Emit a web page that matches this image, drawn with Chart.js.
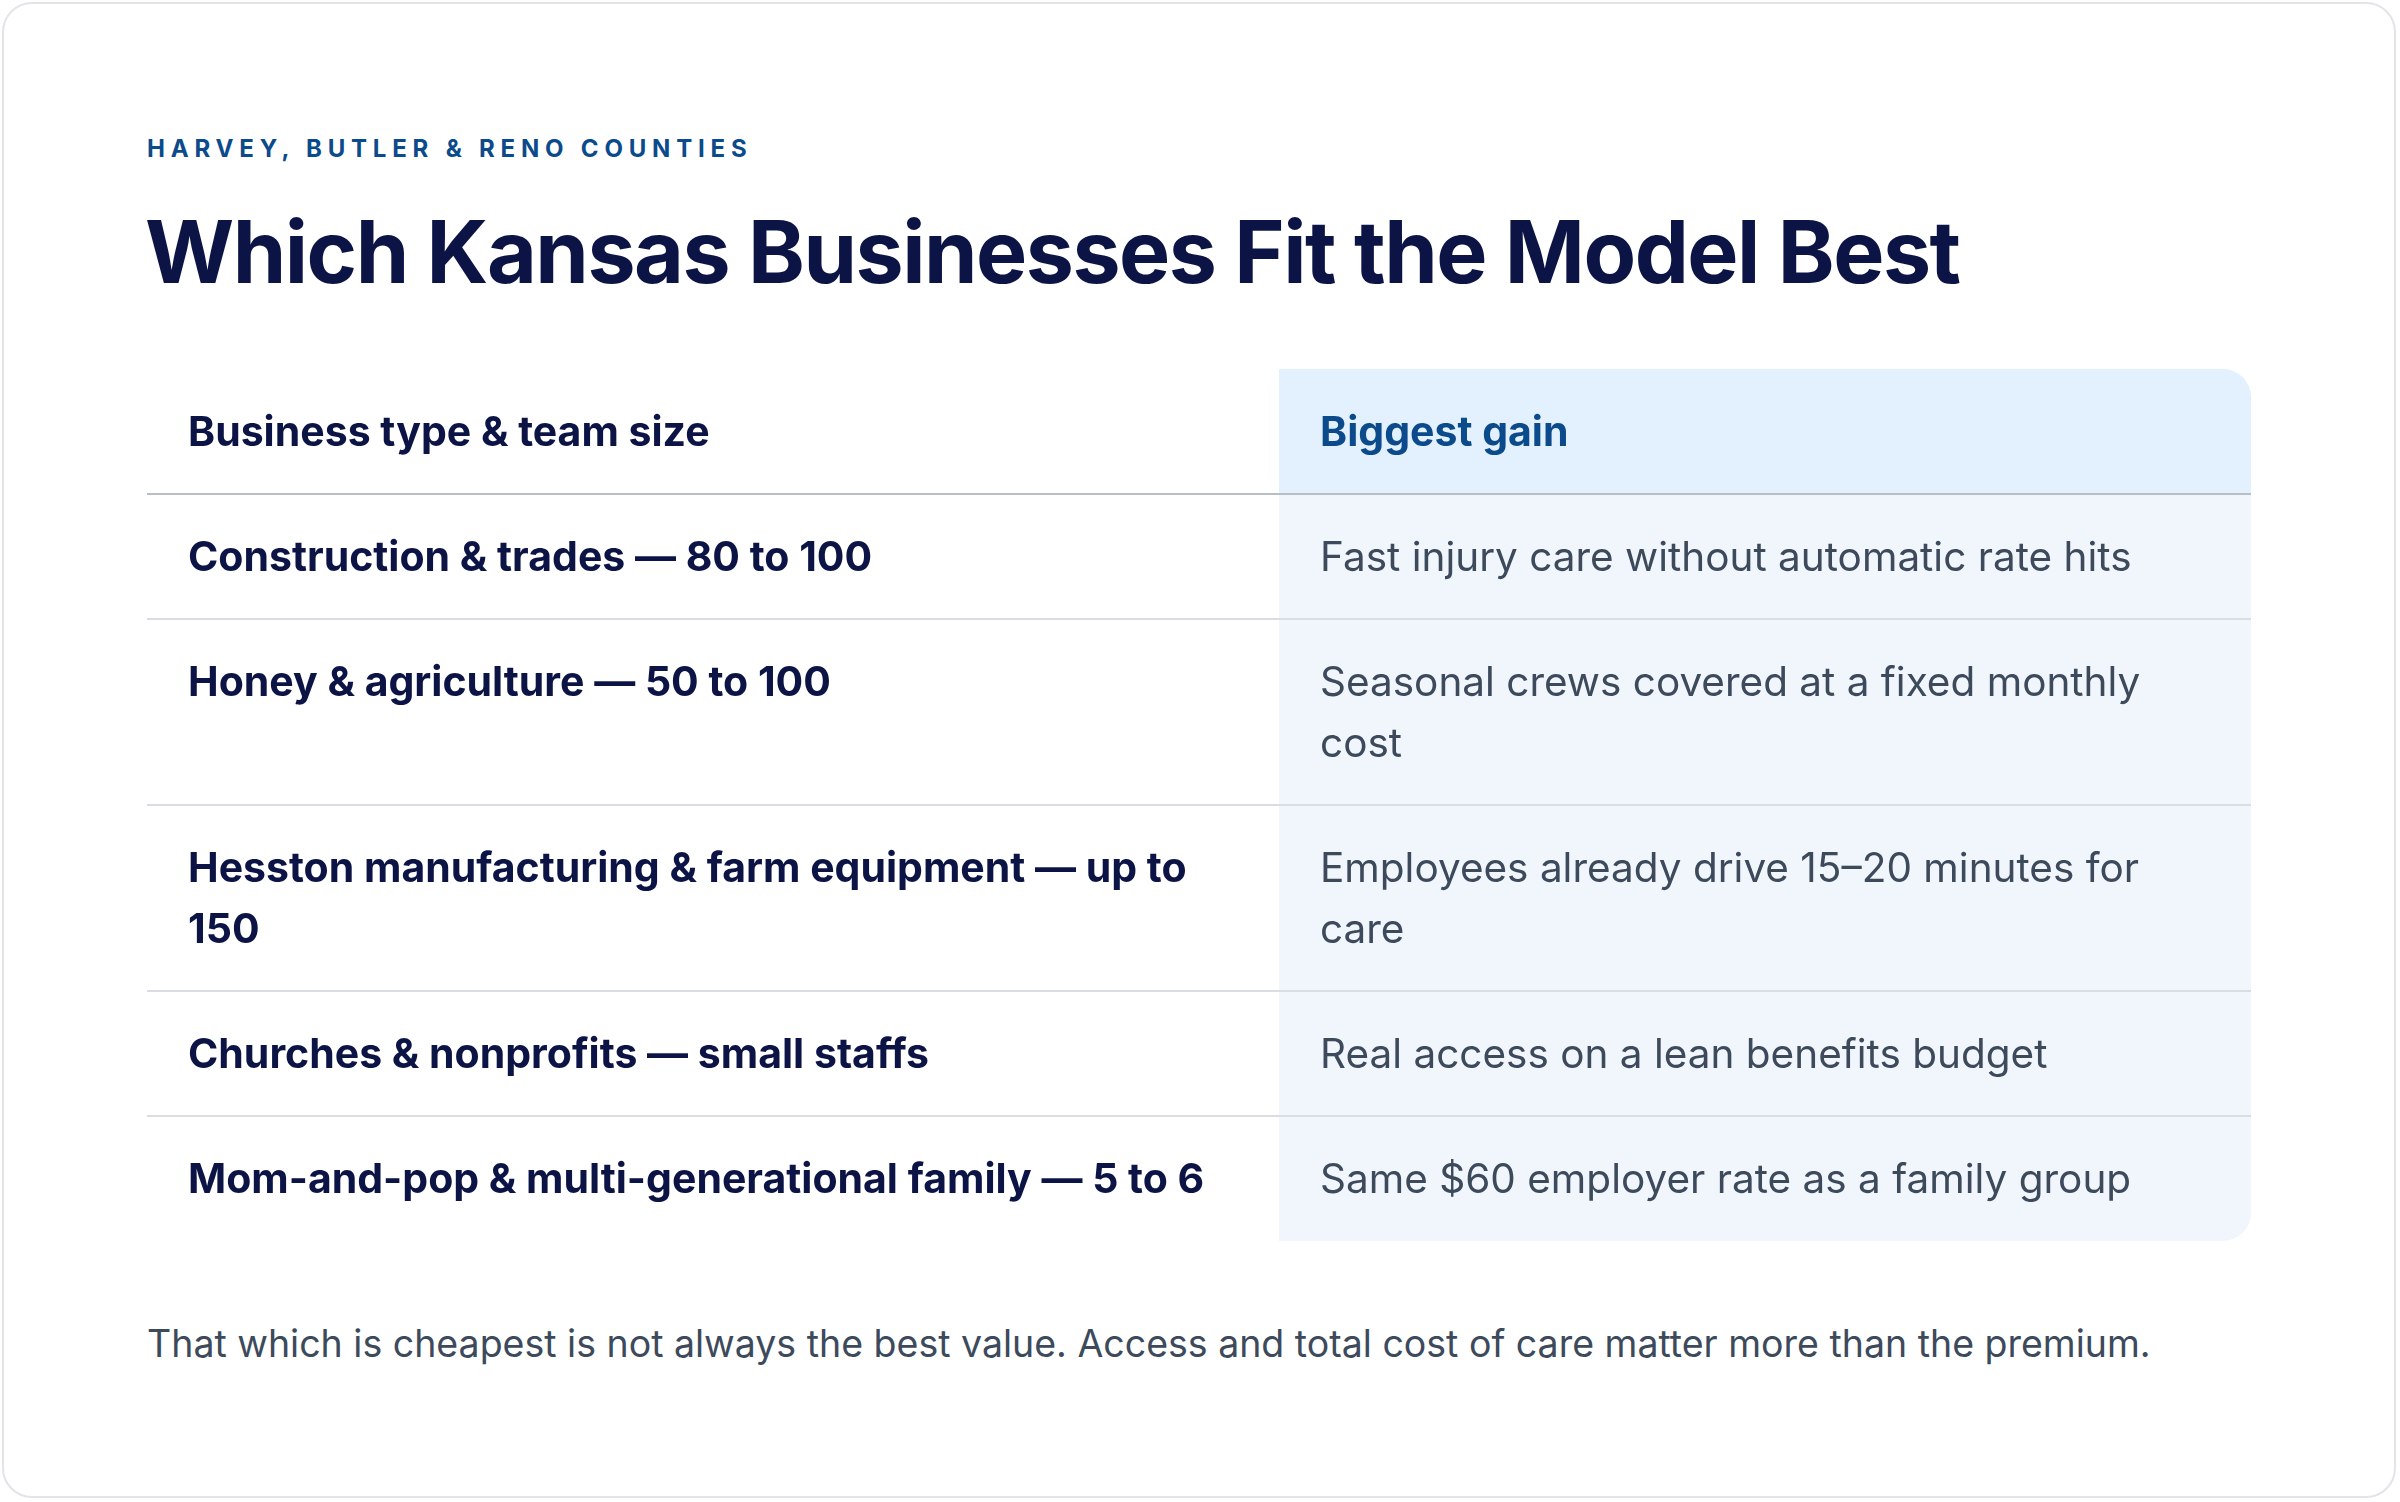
<!DOCTYPE html>
<html><head><meta charset="utf-8">
<script src="https://cdn.jsdelivr.net/npm/chart.js@4/dist/chart.umd.min.js"></script>
<style>
html,body{margin:0;padding:0;background:#fff;width:2400px;height:1502px;overflow:hidden;font-family:Inter,"Noto Sans",sans-serif}
#card{position:absolute;left:2px;top:2px;width:2394px;height:1496px;border:2px solid #e2e4e8;border-radius:30px;box-sizing:border-box}
#sub{position:absolute;left:147px;top:134px;font-size:24px;font-weight:700;letter-spacing:5.8px;color:#0B4A8B}
#title{position:absolute;left:145px;top:200px;font-size:86px;font-weight:700;color:#0C1446;letter-spacing:-1.5px}
#foot{position:absolute;left:147px;top:1321px;font-size:37.5px;color:#3D4A5C}
#wrap{position:absolute;left:147px;top:369px}
</style></head><body>
<div id="card"></div>
<div id="sub">HARVEY, BUTLER &amp; RENO COUNTIES</div>
<div id="title">Which Kansas Businesses Fit the Model Best</div>
<div id="wrap"><canvas id="c" width="2104" height="890"></canvas></div>
<div id="foot">That which is cheapest is not always the best value. Access and total cost of care matter more than the premium.</div>
<script>
const headers = ["Business type & team size", "Biggest gain"];
const businesses = [
  "Construction & trades — 80 to 100",
  "Honey & agriculture — 50 to 100",
  "Hesston manufacturing & farm equipment — up to 150",
  "Churches & nonprofits — small staffs",
  "Mom-and-pop & multi-generational family — 5 to 6"
];
const gains = [
  "Fast injury care without automatic rate hits",
  "Seasonal crews covered at a fixed monthly cost",
  "Employees already drive 15–20 minutes for care",
  "Real access on a lean benefits budget",
  "Same $60 employer rate as a family group"
];

function wrap(ctx, text, w){
  const words=text.split(' ');const lines=[];let cur='';
  for(const wd of words){const t=cur?cur+' '+wd:wd;
    if(ctx.measureText(t).width>w&&cur){lines.push(cur);cur=wd;}else cur=t;}
  if(cur)lines.push(cur);return lines;
}
function rr(ctx,x,y,w,h,tl,tr,br,bl){
  ctx.beginPath();ctx.moveTo(x+tl,y);ctx.lineTo(x+w-tr,y);ctx.arcTo(x+w,y,x+w,y+tr,tr);
  ctx.lineTo(x+w,y+h-br);ctx.arcTo(x+w,y+h,x+w-br,y+h,br);ctx.lineTo(x+bl,y+h);
  ctx.arcTo(x,y+h,x,y+h-bl,bl);ctx.lineTo(x,y+tl);ctx.arcTo(x,y,x+tl,y,tl);ctx.closePath();
}
const tablePlugin={id:'table',afterDraw(chart){
  const ctx=chart.ctx;const W=chart.width;const split=1132;const pad=41;const lh=61;
  const LF='700 41px Inter, "Noto Sans", sans-serif', RF='400 40.5px Inter, "Noto Sans", sans-serif';
  const rows=businesses.map((b,i)=>{
    ctx.font=LF;const l=wrap(ctx,b,1060);
    ctx.font=RF;const r=wrap(ctx,gains[i],W-split-2*pad);
    return {l,r,h:64+Math.max(l.length,r.length)*lh};
  });
  const hh=125;const total=hh+rows.reduce((a,r)=>a+r.h,0);
  ctx.save();
  ctx.fillStyle='#F1F6FD';rr(ctx,split,hh,W-split,total-hh,0,0,28,0);ctx.fill();
  ctx.fillStyle='#E3F0FD';rr(ctx,split,0,W-split,hh,0,28,0,0);ctx.fill();
  ctx.textBaseline='middle';
  ctx.font='700 41px Inter, "Noto Sans", sans-serif';
  ctx.fillStyle='#0C1446';ctx.fillText(headers[0],pad,hh/2+2);
  ctx.fillStyle='#0B4A8B';ctx.fillText(headers[1],split+pad,hh/2+2);
  ctx.fillStyle='#b9bec6';ctx.fillRect(0,hh-1,W,2);
  let y=hh;
  rows.forEach((r,i)=>{
    ctx.font=LF;ctx.fillStyle='#0C1446';
    r.l.forEach((t,k)=>ctx.fillText(t,pad,y+34+lh/2+k*lh));
    ctx.font=RF;ctx.fillStyle='#3D4A5C';
    r.r.forEach((t,k)=>ctx.fillText(t,split+pad,y+34+lh/2+k*lh));
    y+=r.h;
    if(i<rows.length-1){ctx.fillStyle='#dadde2';ctx.fillRect(0,y-1,W,2);}
  });
  ctx.restore();
}};
new Chart(document.getElementById('c'),{
  type:'bar',
  data:{labels:businesses,datasets:[]},
  options:{responsive:false,animation:false,devicePixelRatio:1,
    plugins:{legend:{display:false},tooltip:{enabled:false}},
    scales:{x:{display:false},y:{display:false}}},
  plugins:[tablePlugin]
});
</script></body></html>
